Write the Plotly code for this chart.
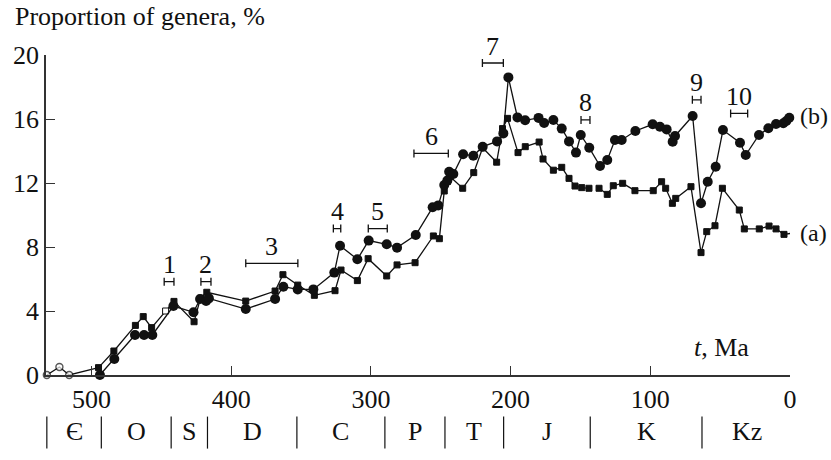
import plotly.graph_objects as go

# ---- data (Ma, % of genera) ----
early_t = [532, 523, 516, 495]
early_v = [0, 0.5, 0, 0.46]

a_t = [495, 484, 468.6, 463, 457, 447, 441, 426.6, 422, 417.5, 389.6, 368.6, 363, 352.4,
       340.5, 325.7, 321.4, 309.7, 302, 288.7, 281.3, 268.4, 255.3, 251, 247.5, 245.3,
       243.4, 234.3, 226.4, 220, 210, 205.8, 202.2, 194.7, 189.5, 179.6, 176.8, 169.4,
       163.4, 158.2, 153.9, 149.1, 143.9, None, 136.7, 130.8, 126.5, 119.8, 111, 97.9,
       91.9, 89, 84.2, 81.8, 70.9, 63.7, 59.6, 53.7, 48.4, 36.3, 32.7, 22, 15, 10, 4.3, -0.5]
a_v = [0.46, 1.5, 3.1, 3.65, 2.96, 4.0, 4.6, 3.33, 4.8, 5.17, 4.62, 5.25, 6.27, 5.62,
       4.98, 5.27, 6.56, 5.9, 7.27, 6.19, 6.88, 7.02, 8.69, 8.52, 11.5, 12.1,
       12.4, 11.67, 12.65, 14.2, 13.3, 15.4, 16.04, 13.9, 14.27, 14.56, 13.5, 12.8,
       12.98, 12.29, 11.81, 11.71, 11.67, None, 11.67, 11.29, 11.83, 11.98, 11.52, 11.52,
       12.08, 11.67, 10.73, 11.04, 11.77, 7.65, 8.96, 9.33, 11.67, 10.31, 9.13, 9.13, 9.31, 9.13, 8.79, 8.85]
a_open_t = 447  # hollow square

b_t = [494, 483.7, 468.9, 462.4, 456.5, 441.4, 427, 422.3, 418, 416, 389.6, 368.6, 362.7,
       352.4, 341.2, 326.2, 322.1, 309.7, 301.6, 288.7, 281.3, 267.9, 255.8, 251.8, 247.5,
       245.3, 244, 241, 234, 226.7, 220, 209.7, 205.2, 201.6, 195.1, 189.6, 180, 176, 169.4,
       163.4, 158.2, 153.2, 149.8, 143.7, 136, 130.8, 125.3, 120.5, 110.7, 98.3, 93.1, 88.3,
       84, 82.3, 69.7, 63.7, 58.9, 53.2, 48, 35.8, 31.7, 22.2, 15.5, 10, 4.8, 2.6, 0.5, -1.5]
b_v = [0, 1.0, 2.5, 2.5, 2.5, 4.31, 3.92, 4.75, 4.62, 4.79, 4.12, 4.75, 5.52,
       5.35, 5.35, 6.4, 8.08, 7.23, 8.4, 8.17, 7.96, 8.75, 10.48, 10.6, 11.88,
       12.15, 12.7, 12.56, 13.8, 13.7, 14.27, 14.6, 15.1, 18.6, 16.1, 15.92, 16.07, 15.75, 15.94,
       15.4, 14.6, 13.9, 15.0, 14.2, 13.06, 13.44, 14.69, 14.69, 15.25, 15.67, 15.52, 15.35,
       14.58, 14.94, 16.19, 10.73, 12.08, 13.02, 15.31, 14.52, 13.75, 15.0, 15.42, 15.69, 15.73, 15.87, 16.08, 16.2]

br_labels = ["1", "2", "3", "4", "5", "6", "7", "8", "9", "10"]
br_start = [448, 421.7, 389.6, 326.9, 301.9, 269.2, 220.2, 149.6, 69.9, 42.5]
br_end = [441, 414.5, 352.3, 321.6, 288.3, 244.6, 205.2, 143.2, 63.7, 30.3]
br_y = [5.83, 5.83, 6.98, 9.15, 9.15, 13.85, 19.5, 15.94, 17.2, 16.35]

period_labels = ["Є", "O", "S", "D", "C", "P", "T", "J", "K", "Kz"]
period_bounds = [532, 493, 443, 417, 353, 290, 247, 205, 143, 63, -1.5]

x_ticks = [500, 400, 300, 200, 100, 0]
y_ticks = [0, 4, 8, 12, 16, 20]

FONT = "Liberation Serif"
FS = 26
INK = "#111"

fig = go.Figure()

fig.add_trace(go.Scatter(
    x=early_t, y=early_v, mode="lines+markers", cliponaxis=False,
    line=dict(color=INK, width=1.3),
    marker=dict(symbol="circle", size=[7, 7, 7, 0], color="white",
                line=dict(color=INK, width=1.4)),
    showlegend=False))

a_colors = ["white" if t == a_open_t else INK for t in a_t]
fig.add_trace(go.Scatter(
    x=a_t, y=a_v, mode="lines+markers", cliponaxis=False,
    line=dict(color=INK, width=1.3),
    marker=dict(symbol="square", size=6, color=a_colors, line=dict(color=INK, width=1)),
    showlegend=False))

fig.add_trace(go.Scatter(
    x=b_t, y=b_v, mode="lines+markers", cliponaxis=False,
    line=dict(color=INK, width=1.3),
    marker=dict(symbol="circle", size=10, color=INK),
    showlegend=False))

# interval brackets
centers = [(s + e) / 2 for s, e in zip(br_start, br_end)]
halves = [(s - e) / 2 for s, e in zip(br_start, br_end)]
fig.add_trace(go.Scatter(
    x=centers, y=br_y, mode="markers", cliponaxis=False,
    marker=dict(size=1, color="rgba(0,0,0,0)"),
    error_x=dict(type="data", array=halves, symmetric=True, color=INK,
                 thickness=1.3, width=4),
    showlegend=False))

annotations = []
for lab, c, y in zip(br_labels, centers, br_y):
    annotations.append(dict(x=c, y=y, xref="x", yref="y", text=lab, showarrow=False,
                            yanchor="middle", yshift=17,
                            font=dict(family=FONT, size=FS, color=INK)))

# curve labels (placed just right of the axis end)
annotations.append(dict(x=1.011, y=b_v[-1], xref="paper", yref="y", text="(b)", showarrow=False,
                        xanchor="left", yanchor="middle",
                        font=dict(family=FONT, size=24, color=INK)))
annotations.append(dict(x=1.011, y=a_v[-1], xref="paper", yref="y", text="(a)", showarrow=False,
                        xanchor="left", yanchor="middle",
                        font=dict(family=FONT, size=24, color=INK)))
annotations.append(dict(x=49, y=1.7, xref="x", yref="y", text="<i>t</i>, Ma", showarrow=False,
                        xanchor="center", yanchor="middle",
                        font=dict(family=FONT, size=FS, color=INK)))
annotations.append(dict(x=-0.045, y=1.07, xref="paper", yref="paper", xanchor="left",
                        yanchor="bottom", text="Proportion of genera, %", showarrow=False,
                        font=dict(family=FONT, size=FS, color=INK)))

shapes = []
for b in period_bounds:
    shapes.append(dict(type="line", xref="x", yref="paper", x0=b, x1=b,
                       y0=-0.13, y1=-0.23, line=dict(color=INK, width=1.2)))
for i, lab in enumerate(period_labels):
    mid = (period_bounds[i] + period_bounds[i + 1]) / 2
    annotations.append(dict(x=mid, y=-0.178, xref="x", yref="paper", text=lab,
                            showarrow=False, yanchor="middle",
                            font=dict(family=FONT, size=FS, color=INK)))

fig.update_layout(
    width=831, height=460,
    margin=dict(l=46, r=41, t=55, b=85),
    paper_bgcolor="white", plot_bgcolor="white",
    font=dict(family=FONT, size=FS, color=INK),
    annotations=annotations, shapes=shapes,
)
fig.update_xaxes(range=[532.6, 0], tickvals=x_ticks, ticktext=[str(v) for v in x_ticks],
                 ticks="inside", ticklen=9, tickwidth=1.3, tickcolor="#333",
                 showline=True, linecolor="#333", linewidth=1.6, showgrid=False,
                 zeroline=False, tickfont=dict(family=FONT, size=FS, color=INK))
fig.update_yaxes(range=[0, 20], tickvals=y_ticks, ticktext=[str(v) for v in y_ticks],
                 ticks="inside", ticklen=9, tickwidth=1.3, tickcolor="#333",
                 showline=True, linecolor="#333", linewidth=1.6, showgrid=False,
                 zeroline=False, tickfont=dict(family=FONT, size=FS, color=INK))

fig.write_html("out.html")
